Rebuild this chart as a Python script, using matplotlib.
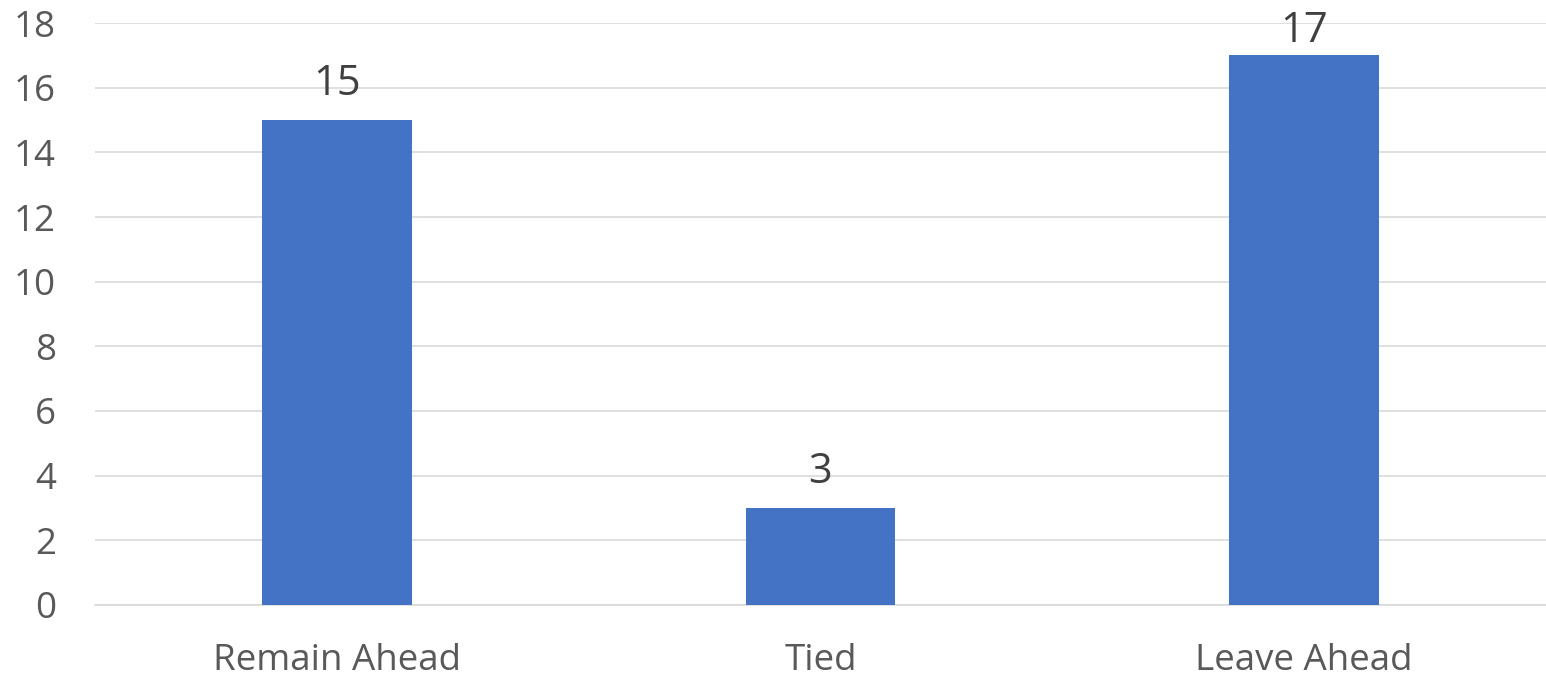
import matplotlib.pyplot as plt

categories = ['Remain Ahead', 'Tied', 'Leave Ahead']
counts = [15, 3, 17]
y_ticks = [0, 2, 4, 6, 8, 10, 12, 14, 16, 18]

plt.rcParams['font.family'] = ['Open Sans', 'DejaVu Sans']

W, H = 1546, 678
fig = plt.figure(figsize=(W / 100, H / 100), dpi=100)
ax_top_px, ax_bot_px, ax_left_px = 23, 605, 95
ax = fig.add_axes([ax_left_px / W, 1 - ax_bot_px / H, 1 - ax_left_px / W,
                   (ax_bot_px - ax_top_px) / H])

ymax = 18
x = range(len(categories))
bars = ax.bar(x, counts, width=0.31, color='#4472C4', zorder=3)

# value labels above the bars, pushed down if they would leave the figure
px_per_unit = (ax_bot_px - ax_top_px) / ymax
label_size = 30
cap_px = 0.72 * label_size * 100 / 72
for rect, v in zip(bars, counts):
    room = (ymax - v) * px_per_unit + ax_top_px
    off_px = min(25, room - cap_px - 12)
    ax.annotate(f"{v}", (rect.get_x() + rect.get_width() / 2, v),
                xytext=(0, off_px * 72 / 100), textcoords='offset points',
                ha='center', va='baseline', fontsize=label_size, color='#404040',
                annotation_clip=False)

ax.set_xlim(-0.5, len(categories) - 0.5)
ax.set_ylim(0, ymax)
ax.set_yticks(y_ticks)
ax.set_xticks(list(x))
ax.set_xticklabels(categories)

ax.grid(axis='y', color='#d9d9d9', linewidth=1.2, zorder=0)
for s in ['top', 'right', 'left']:
    ax.spines[s].set_visible(False)
ax.spines['bottom'].set_color('#d9d9d9')
ax.spines['bottom'].set_linewidth(1.2)

ax.tick_params(axis='y', length=0, pad=28, labelsize=26.5, labelcolor='#595959')
ax.tick_params(axis='x', length=0, pad=27, labelsize=26.5, labelcolor='#595959')

fig.savefig('out.png', dpi=100)
